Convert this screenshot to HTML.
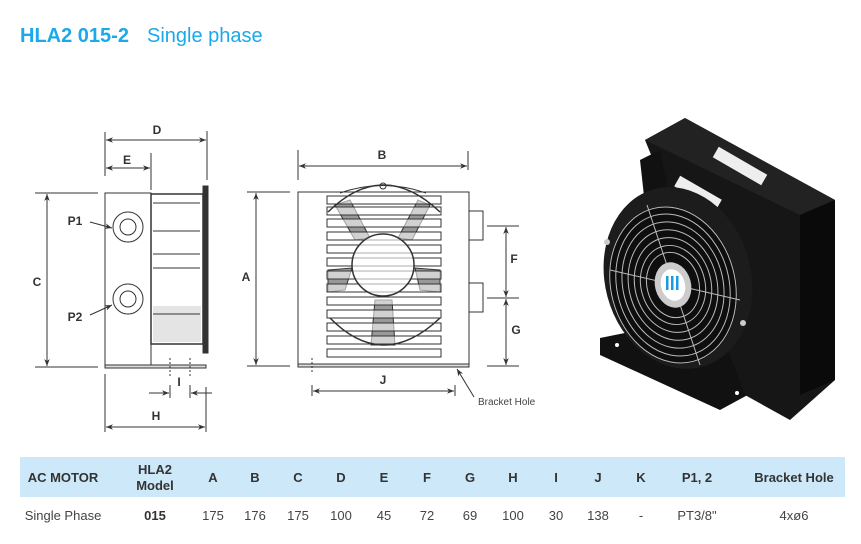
<!DOCTYPE html>
<html><head><meta charset="utf-8"><style>
body{margin:0;background:#fff;width:861px;height:544px;overflow:hidden;font-family:"Liberation Sans",sans-serif}
svg{position:absolute;left:0;top:0}
</style></head><body>
<svg width="861" height="544" viewBox="0 0 861 544" xmlns="http://www.w3.org/2000/svg" font-family="Liberation Sans, sans-serif">
<defs>
<marker id="ar" viewBox="0 0 10 10" refX="10" refY="5" markerWidth="7" markerHeight="7" orient="auto-start-reverse"><path d="M0,1 L10,5 L0,9 L3,5z" fill="#333"/></marker>
</defs>
<text x="20" y="42" font-size="20" font-weight="bold" fill="#1aa9ea">HLA2 015-2</text>
<text x="147" y="42" font-size="20" fill="#1aa9ea">Single phase</text>

<g stroke="#333" stroke-width="1" fill="none">
<rect x="105" y="193" width="46" height="174" fill="#fff"/>
<rect x="151" y="194" width="52" height="150" fill="#fff" stroke-width="1.5"/>
<rect x="153" y="306" width="48" height="36" fill="#e4e4e4" stroke="none"/>
<line x1="153" y1="203" x2="200" y2="203"/><line x1="153" y1="231" x2="200" y2="231"/>
<line x1="153" y1="254" x2="200" y2="254"/><line x1="153" y1="268" x2="200" y2="268"/>
<line x1="153" y1="314" x2="200" y2="314"/>
<rect x="203" y="186" width="5" height="167" fill="#333"/>
<rect x="105" y="365" width="101" height="3" fill="#ddd"/>
<circle cx="128" cy="227" r="15" fill="#fff"/><circle cx="128" cy="227" r="8"/>
<circle cx="128" cy="299" r="15" fill="#fff"/><circle cx="128" cy="299" r="8"/>
<line x1="90" y1="222" x2="112" y2="228" marker-end="url(#ar)"/>
<line x1="90" y1="315" x2="112" y2="305" marker-end="url(#ar)"/>
<line x1="105" y1="132" x2="105" y2="176"/><line x1="151" y1="153" x2="151" y2="190"/><line x1="207" y1="131" x2="207" y2="180"/>
<line x1="106" y1="140" x2="206" y2="140" marker-start="url(#ar)" marker-end="url(#ar)"/>
<line x1="106" y1="168" x2="150" y2="168" marker-start="url(#ar)" marker-end="url(#ar)"/>
<line x1="35" y1="193" x2="98" y2="193"/><line x1="35" y1="367" x2="98" y2="367"/>
<line x1="47" y1="194" x2="47" y2="366" marker-start="url(#ar)" marker-end="url(#ar)"/>
<line x1="170" y1="358" x2="170" y2="376" stroke-dasharray="2,2"/><line x1="190" y1="358" x2="190" y2="376" stroke-dasharray="2,2"/>
<line x1="149" y1="393" x2="169" y2="393" marker-end="url(#ar)"/>
<line x1="212" y1="393" x2="191" y2="393" marker-end="url(#ar)"/>
<line x1="170" y1="385" x2="170" y2="398"/><line x1="190" y1="385" x2="190" y2="398"/>
<line x1="105" y1="374" x2="105" y2="432"/><line x1="206" y1="387" x2="206" y2="432"/>
<line x1="106" y1="427" x2="205" y2="427" marker-start="url(#ar)" marker-end="url(#ar)"/>

<rect x="298" y="192" width="171" height="174" fill="#fff"/>
<rect x="298" y="364" width="171" height="3" fill="#ddd"/>
<circle cx="383" cy="186" r="3"/>
<path d="M340,193 Q383,178 426,193" />
<path d="M335,205 L355,240 L370,238 L350,200z" fill="#999"/>
<path d="M430,205 L412,240 L398,238 L418,200z" fill="#999"/>
<path d="M328,270 L352,268 L345,290 L328,292z" fill="#999"/>
<path d="M440,270 L415,268 L420,290 L440,292z" fill="#999"/>
<path d="M375,300 L392,300 L395,345 L371,345z" fill="#999"/>
<g fill="#fff" fill-opacity="0.55">
<rect x="327" y="196" width="114" height="8"/><rect x="327" y="207" width="114" height="8"/>
<rect x="327" y="219" width="114" height="8"/><rect x="327" y="232" width="114" height="8"/>
<rect x="327" y="245" width="114" height="8"/><rect x="327" y="258" width="114" height="8"/>
<rect x="327" y="271" width="114" height="8"/><rect x="327" y="284" width="114" height="8"/>
<rect x="327" y="297" width="114" height="8"/><rect x="327" y="310" width="114" height="8"/>
<rect x="327" y="323" width="114" height="8"/><rect x="327" y="336" width="114" height="8"/>
<rect x="327" y="349" width="114" height="8"/>
</g>
<circle cx="383" cy="265" r="31" fill="#fff" fill-opacity="0.6" stroke-width="1.5"/>
<path d="M328,212 Q383,158 440,212" stroke-width="1.5"/>
<path d="M330,318 Q383,372 440,318" stroke-width="1.5"/>
<rect x="469" y="211" width="14" height="29" fill="#fff"/><rect x="469" y="283" width="14" height="29" fill="#fff"/>
<line x1="298" y1="150" x2="298" y2="180"/><line x1="468" y1="151" x2="468" y2="170"/>
<line x1="299" y1="166" x2="467" y2="166" marker-start="url(#ar)" marker-end="url(#ar)"/>
<line x1="247" y1="192" x2="290" y2="192"/><line x1="247" y1="366" x2="290" y2="366"/>
<line x1="256" y1="193" x2="256" y2="365" marker-start="url(#ar)" marker-end="url(#ar)"/>
<line x1="312" y1="358" x2="312" y2="372" stroke-dasharray="2,2"/>
<line x1="312" y1="385" x2="312" y2="396"/><line x1="455" y1="385" x2="455" y2="396"/>
<line x1="313" y1="391" x2="454" y2="391" marker-start="url(#ar)" marker-end="url(#ar)"/>
<line x1="474" y1="397" x2="457" y2="369" marker-end="url(#ar)"/>
<line x1="487" y1="226" x2="519" y2="226"/><line x1="487" y1="298" x2="519" y2="298"/><line x1="487" y1="366" x2="519" y2="366"/>
<line x1="506" y1="227" x2="506" y2="297" marker-start="url(#ar)" marker-end="url(#ar)"/>
<line x1="506" y1="299" x2="506" y2="365" marker-start="url(#ar)" marker-end="url(#ar)"/>
</g>
<g font-size="12" font-weight="bold" fill="#333" text-anchor="middle">
<text x="157" y="134">D</text><text x="127" y="164">E</text><text x="37" y="286">C</text>
<text x="75" y="225">P1</text><text x="75" y="321">P2</text><text x="179" y="386">I</text><text x="156" y="420">H</text>
<text x="382" y="159">B</text><text x="246" y="281">A</text><text x="383" y="384">J</text>
<text x="514" y="263">F</text><text x="516" y="334">G</text>
</g>
<text x="478" y="405" font-size="10" fill="#444">Bracket Hole</text>

<g>
<path d="M600,338 L700,318 L790,372 L720,410 L600,355z" fill="#111"/>
<circle cx="617" cy="345" r="2" fill="#fff"/><circle cx="737" cy="393" r="2" fill="#fff"/><circle cx="765" cy="404" r="2" fill="#fff"/><circle cx="770" cy="376" r="2" fill="#fff"/>
<path d="M645,140 L685,118 L835,200 L835,380 L790,420 L745,395 L690,250z" fill="#161616"/>
<path d="M645,140 L685,118 L835,200 L800,215z" fill="#222"/>
<path d="M800,215 L835,200 L835,380 L800,395z" fill="#0a0a0a"/>
<rect x="712" y="160" width="56" height="12" fill="#eee" transform="rotate(30 740 166)"/>
<rect x="674" y="187" width="48" height="12" fill="#eee" transform="rotate(30 698 193)"/>
<path d="M640,160 L660,150 L670,200 L645,205z" fill="#111"/>
<ellipse cx="678" cy="278" rx="73" ry="92" fill="#1c1c1c" transform="rotate(-15 678 278)"/>
<ellipse cx="673" cy="285" rx="63" ry="80" fill="#0e0e0e" transform="rotate(-15 673 285)"/>
<g fill="none" stroke="#bbb" stroke-width="1">
<ellipse cx="673" cy="285" rx="62" ry="79" transform="rotate(-15 673 285)"/>
<ellipse cx="673" cy="285" rx="56" ry="72" transform="rotate(-15 673 285)"/>
<ellipse cx="673" cy="285" rx="50" ry="64" transform="rotate(-15 673 285)"/>
<ellipse cx="673" cy="285" rx="44" ry="56" transform="rotate(-15 673 285)"/>
<ellipse cx="673" cy="285" rx="38" ry="48" transform="rotate(-15 673 285)"/>
<ellipse cx="673" cy="285" rx="32" ry="40" transform="rotate(-15 673 285)"/>
<ellipse cx="673" cy="285" rx="26" ry="33" transform="rotate(-15 673 285)"/>
<line x1="647" y1="205" x2="700" y2="365"/>
<line x1="610" y1="270" x2="740" y2="300"/>
</g>
<ellipse cx="673" cy="285" rx="18" ry="23" fill="#ccc" transform="rotate(-15 673 285)"/>
<ellipse cx="673" cy="285" rx="12" ry="16" fill="#fff" transform="rotate(-15 673 285)"/>
<rect x="666" y="276" width="2.5" height="14" fill="#1a9be0"/><rect x="671" y="276" width="2.5" height="14" fill="#1a9be0"/><rect x="676" y="276" width="2.5" height="14" fill="#1a9be0"/>
<circle cx="607" cy="242" r="3" fill="#ccc"/><circle cx="743" cy="323" r="3" fill="#ccc"/>
</g>

<rect x="20" y="457" width="825" height="40" fill="#cde8f8"/>
<g font-size="13" font-weight="bold" fill="#333" text-anchor="middle">
<text x="63" y="482">AC MOTOR</text>
<text x="155" y="474">HLA2</text><text x="155" y="490">Model</text>
<text x="213" y="482">A</text><text x="255" y="482">B</text><text x="298" y="482">C</text><text x="341" y="482">D</text>
<text x="384" y="482">E</text><text x="427" y="482">F</text><text x="470" y="482">G</text><text x="513" y="482">H</text>
<text x="556" y="482">I</text><text x="598" y="482">J</text><text x="641" y="482">K</text><text x="697" y="482">P1, 2</text>
<text x="794" y="482">Bracket Hole</text>
</g>
<g font-size="13" fill="#444" text-anchor="middle">
<text x="63" y="520">Single Phase</text>
<text x="155" y="520" font-weight="bold" fill="#333">015</text>
<text x="213" y="520">175</text><text x="255" y="520">176</text><text x="298" y="520">175</text><text x="341" y="520">100</text>
<text x="384" y="520">45</text><text x="427" y="520">72</text><text x="470" y="520">69</text><text x="513" y="520">100</text>
<text x="556" y="520">30</text><text x="598" y="520">138</text><text x="641" y="520">-</text><text x="697" y="520">PT3/8"</text>
<text x="794" y="520">4xø6</text>
</g>
</svg>
</body></html>
